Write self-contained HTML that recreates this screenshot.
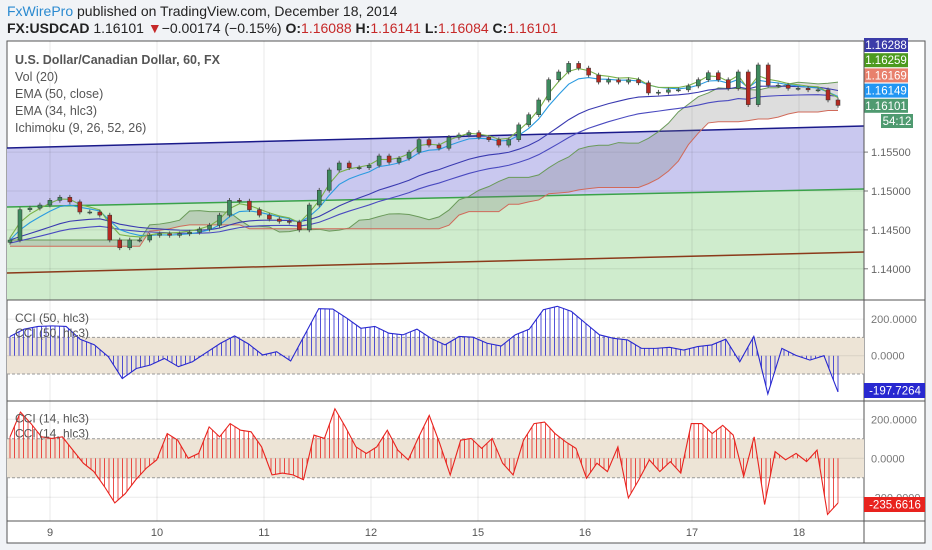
<!DOCTYPE html>
<html><head><meta charset="utf-8"><style>
body{margin:0;width:932px;height:550px;background:#f1f3f6;font-family:"Liberation Sans",sans-serif;overflow:hidden;position:relative}
.hdr{position:absolute;left:7px;font-size:14px;color:#222;white-space:nowrap}
.r{color:#c62828}
svg{position:absolute;left:0;top:0}
</style></head><body>
<div class="hdr" style="top:3px"><span style="color:#2a8ad0">FxWirePro</span> published on TradingView.com, December 18, 2014</div>
<div class="hdr" style="top:20px"><b>FX:USDCAD</b> 1.16101 <span class="r">▼</span>−0.00174 (−0.15%) <b>O:</b><span class="r">1.16088</span> <b>H:</b><span class="r">1.16141</span> <b>L:</b><span class="r">1.16084</span> <b>C:</b><span class="r">1.16101</span></div>
<svg id="c" width="932" height="550"></svg>
<script>
const closes=[1.1437,1.1476,1.1478,1.1482,1.1488,1.1492,1.1486,1.1473,1.1473,1.1469,1.1437,1.1427,1.1437,1.1437,1.1443,1.1445,1.1443,1.1445,1.1447,1.1451,1.1456,1.1469,1.1488,1.1487,1.1476,1.1469,1.1464,1.1461,1.1460,1.1450,1.1482,1.1501,1.1527,1.1536,1.1530,1.1530,1.1533,1.1545,1.1537,1.1542,1.1550,1.1566,1.1559,1.1555,1.1569,1.1572,1.1575,1.1569,1.1566,1.1559,1.1566,1.1585,1.1598,1.1617,1.1643,1.1653,1.1664,1.1658,1.1649,1.1640,1.1643,1.1640,1.1643,1.1639,1.1626,1.1627,1.1630,1.1630,1.1635,1.1643,1.1652,1.1643,1.1632,1.1653,1.1611,1.1662,1.1636,1.1636,1.1632,1.1632,1.1630,1.1630,1.1617,1.1610];
const cci50=[105,145,160,163,160,90,60,-5,-125,-70,-51,-15,-60,-33,18,68,108,64,4,22,-29,114,257,255,205,150,160,123,114,145,95,59,105,101,68,53,114,145,251,270,242,178,114,95,86,40,40,46,31,50,59,90,-33,105,-209,40,2,-24,0,-198];
const cci14=[110,237,178,110,102,110,42,-25,-68,-144,-229,-181,-110,-51,-8,127,93,0,25,161,110,178,144,136,59,-85,-76,-85,-110,119,102,254,161,59,25,59,144,42,-8,110,220,76,-85,93,102,51,102,-25,-85,93,178,186,127,85,51,-102,-25,-68,59,-203,-110,-8,-68,-17,-76,178,178,127,169,119,-93,110,-237,34,-8,25,-17,42,-288,-229];
const dayLabels=["9","10","11","12","15","16","17","18"];
const priceTicks=[1.14,1.145,1.15,1.155];
const priceTags=[["1.16288","#3b3ba8"],["1.16259","#4c9a1e"],["1.16169","#e8806c"],["1.16149","#2196f3"],["1.16101","#4f9a70"],["54:12","#4f9a70"]];

const S=document.getElementById('c'),NS="http://www.w3.org/2000/svg";
function el(t,a,p){const e=document.createElementNS(NS,t);for(const k in a)e.setAttribute(k,a[k]);(p||S).appendChild(e);return e;}
const L=7,R=864,X0=10,X1=838;
const py=p=>191-(p-1.15)/0.005*38.9;
const xi=(i,n)=>X0+i*(X1-X0)/(n-1);
const c1=v=>355.7-v*0.183, c2=v=>458.3-v*0.195;
let f=el('rect',{x:7,y:41,width:918,height:502,fill:'#fff',stroke:'#555'});


let g=el('g',{});


el('polygon',{points:`${L},148 ${R},126 ${R},189 ${L},207`,fill:'#c9c8ef'},g);
el('polygon',{points:`${L},207 ${R},189 ${R},300 ${L},300`,fill:'#cfeccd'},g);
dayLabels.forEach((d,i)=>{const x=50+i*107;
 let gl=el('line',{x1:x,y1:41,x2:x,y2:521,stroke:'#000',"stroke-opacity":0.09});
 
 
 let t=el('text',{x:x,y:536,"font-size":11,fill:'#555',"text-anchor":'middle'});t.textContent=d;
 
 
});
priceTicks.forEach(p=>{const y=py(p);
 let gl=el('line',{x1:L,y1:y,x2:R,y2:y,stroke:'#000',"stroke-opacity":0.08});
 
 
 el('line',{x1:R,y1:y,x2:R+4,y2:y,stroke:'#777'});
 let t=el('text',{x:R+7,y:y+4,"font-size":11,fill:'#666'});t.textContent=p.toFixed(5);
 
 
});
[[148,126,'#1a1a8a'],[207,189,'#3aa24a'],[273,252,'#8b3a1a']].forEach((l,i)=>{
 let ln=el('line',{x1:L,y1:l[0],x2:R,y2:l[1],stroke:l[2],"stroke-width":1.5});
 
 
});
const n=closes.length;
function mid(i,p){let a=closes.slice(Math.max(0,i-p+1),i+1);return (Math.max(...a)+Math.min(...a))/2;}
const sa=[],sb=[];
for(let i=0;i<n;i++){const j=Math.max(0,i-13);sa.push((mid(j,5)+mid(j,13))/2);sb.push(mid(j,26)-0.0008);}
let cl=el('polygon',{points:sa.map((v,i)=>xi(i,n)+','+py(v)).concat(sb.map((v,i)=>xi(i,n)+','+py(v)).reverse()).join(' '),fill:'#777',"fill-opacity":0.25,stroke:'none'});


el('polyline',{points:sa.map((v,i)=>xi(i,n)+','+py(v)).join(' '),fill:'none',stroke:'#6a9a5a'});
el('polyline',{points:sb.map((v,i)=>xi(i,n)+','+py(v)).join(' '),fill:'none',stroke:'#d06a5a'});
function ema(p,off){let r=[],e=closes[0]-off;closes.forEach(c=>{e=e+(2/(p+1))*(c-off-e);r.push(e);});return r;}
[[ema(17,0),'#3a3ab0'],[ema(25,0.0004),'#4a4ac0'],[ema(5,0),'#2b9be0'],[ema(3,-0.0003),'#79b24a']].forEach((s,k)=>{
 let pl=el('polyline',{points:s[0].map((v,i)=>xi(i,n)+','+py(v)).join(' '),fill:'none',stroke:s[1],"stroke-width":1.1});
 
 
});
closes.forEach((c,i)=>{const o=i?closes[i-1]:c-0.0003,x=xi(i,n),up=c>=o;
 const col=up?'#3d8a5e':'#b52a22';
 el('line',{x1:x,y1:py(Math.max(o,c)+0.0003),x2:x,y2:py(Math.min(o,c)-0.0003),stroke:'#555'});
 let r=el('rect',{x:x-2,y:py(Math.max(o,c)),width:4,height:Math.max(1,Math.abs(py(o)-py(c))),fill:col,stroke:'#333',"stroke-width":0.5});
 
 
});
["U.S. Dollar/Canadian Dollar, 60, FX","Vol (20)","EMA (50, close)","EMA (34, hlc3)","Ichimoku (9, 26, 52, 26)"].forEach((t,i)=>{
 let e=el('text',{x:15,y:64+i*17,"font-size":12.5,fill:'#555',"font-weight":i?'normal':'bold'});e.textContent=t;
 
 
});
priceTags.forEach((t,i)=>{const y=38+i*15.2,w=i==5?32:44,x=i==5?881:864;
 el('rect',{x:x,y:y,width:w,height:14,fill:t[1]});
 let e=el('text',{x:x+w/2,y:y+11,"font-size":11.5,fill:'#fff',"text-anchor":'middle'});e.textContent=t[0];
 
 
});
el('line',{x1:7,y1:300,x2:925,y2:300,stroke:'#555'});
el('line',{x1:7,y1:401,x2:925,y2:401,stroke:'#555'});
el('line',{x1:7,y1:521,x2:925,y2:521,stroke:'#555'});
el('line',{x1:R,y1:41,x2:R,y2:543,stroke:'#555'});
function cciPanel(vals,yf,col,name,label,tag,tagY,ticks){
 let g=el('g',{});
 
 
 el('rect',{x:L,y:yf(100),width:R-L,height:yf(-100)-yf(100),fill:'#ede4d6'},g);
 [100,-100].forEach(v=>el('line',{x1:L,y1:yf(v),x2:R,y2:yf(v),stroke:'#999',"stroke-dasharray":'3,2'},g));
 ticks.forEach(v=>{el('line',{x1:L,y1:yf(v),x2:R,y2:yf(v),stroke:'#000',"stroke-opacity":0.08},g);
  let t=el('text',{x:R+7,y:yf(v)+4,"font-size":11,fill:'#777'},g);t.textContent=v.toFixed(4);});
 const m=vals.length;
 // dense histogram stripes interpolated between data points
 const step=(X1-X0)/(m-1);
 for(let x=X0;x<=X1;x+=4.5){const f=(x-X0)/step,i=Math.min(m-2,Math.floor(f)),t=f-i;
  const v=vals[i]*(1-t)+vals[i+1]*t;
  el('line',{x1:x,y1:yf(0),x2:x,y2:yf(v),stroke:col,"stroke-width":0.8},g);}
 let pl=el('polyline',{points:vals.map((v,i)=>xi(i,m)+','+yf(v)).join(' '),fill:'none',stroke:col,"stroke-width":1.1},g);
 
 
 [0,1].forEach(k=>{let t=el('text',{x:15,y:yf(200)+3+k*15,"font-size":12,fill:'#555'},g);t.textContent=label;});
 el('rect',{x:R,y:tagY,width:61,height:15,fill:col},g);
 let t=el('text',{x:R+31,y:tagY+11.5,"font-size":11.5,fill:'#fff',"text-anchor":'middle'},g);t.textContent=tag;
}
cciPanel(cci50,c1,'#2828d0','cci-50-panel','CCI (50, hlc3)','-197.7264',383,[200,0]);
cciPanel(cci14,c2,'#e8231e','cci-14-panel','CCI (14, hlc3)','-235.6616',497,[200,0,-200]);
</script>
</body></html>
